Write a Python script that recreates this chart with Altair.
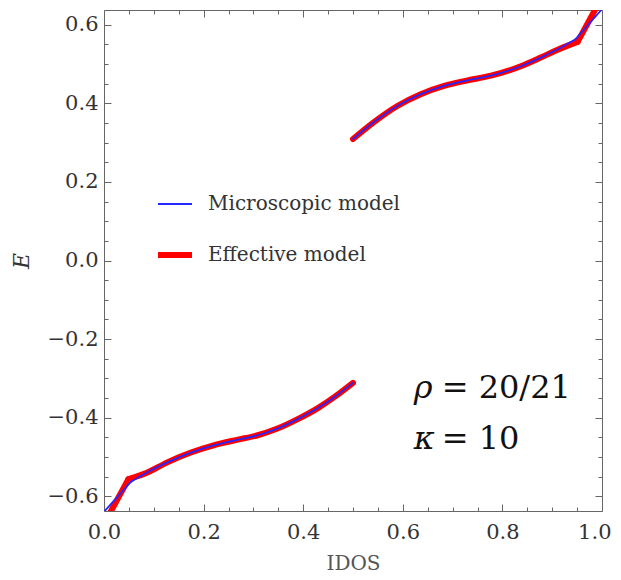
import altair as alt
import pandas as pd

# ---- data ----
# Microscopic model (blue): edge segments (to the kinks) and main segments
micro_lower_edge_idos = [0.0, 0.054]
micro_lower_edge_E = [-0.639, -0.563]
micro_lower_idos = [0.054, 0.086, 0.126, 0.173, 0.22, 0.267, 0.307, 0.347, 0.388, 0.431, 0.465, 0.5]
micro_lower_E = [-0.563, -0.539, -0.514, -0.489, -0.47, -0.456, -0.445, -0.428, -0.404, -0.374, -0.345, -0.311]
micro_upper_idos = [0.5, 0.542, 0.589, 0.636, 0.683, 0.73, 0.777, 0.837, 0.877, 0.911, 0.946]
micro_upper_E = [0.309, 0.352, 0.393, 0.423, 0.444, 0.458, 0.47, 0.494, 0.516, 0.537, 0.562]
micro_upper_edge_idos = [0.946, 1.0]
micro_upper_edge_E = [0.562, 0.639]

# Effective model (red)
eff_lower_edge_idos = [0.0, 0.049]
eff_lower_edge_E = [-0.67, -0.556]
eff_lower_idos = [0.049, 0.086, 0.126, 0.173, 0.22, 0.267, 0.307, 0.347, 0.388, 0.431, 0.465, 0.5]
eff_lower_E = [-0.556, -0.54, -0.514, -0.489, -0.47, -0.456, -0.445, -0.428, -0.404, -0.374, -0.345, -0.311]
eff_upper_idos = [0.5, 0.542, 0.589, 0.636, 0.683, 0.73, 0.777, 0.837, 0.877, 0.911, 0.951]
eff_upper_E = [0.309, 0.352, 0.393, 0.423, 0.444, 0.458, 0.47, 0.494, 0.516, 0.536, 0.556]
eff_upper_edge_idos = [0.951, 1.0]
eff_upper_edge_E = [0.556, 0.67]

models = ["Microscopic model", "Effective model"]
model_colors = ["#2626ff", "#ff0000"]
model_widths = [1.8, 6]

x_major = [0.0, 0.2, 0.4, 0.6, 0.8, 1.0]
x_last = [1.0]
x_minor = [0.05, 0.1, 0.15, 0.25, 0.3, 0.35, 0.45, 0.5, 0.55, 0.65, 0.7, 0.75, 0.85, 0.9, 0.95]
y_major = [-0.6, -0.4, -0.2, 0.0, 0.2, 0.4, 0.6]
y_minor = [-0.55, -0.5, -0.45, -0.35, -0.3, -0.25, -0.15, -0.1, -0.05,
           0.05, 0.1, 0.15, 0.25, 0.3, 0.35, 0.45, 0.5, 0.55]

ann_symbols = ["ρ", "κ"]
ann_values = ["= 20/21", "= 10"]
ann_E = [-0.323, -0.453]
ann_sym_idos = [0.622, 0.622]
ann_val_idos = [0.678, 0.678]

x_domain = [0.0, 1.0]
y_domain = [-0.637, 0.637]

# ---- tables ----
def seg(idos, E, branch, model):
    return pd.DataFrame({"IDOS": idos, "E": E, "branch": branch, "model": model})

micro = pd.concat([
    seg(micro_lower_edge_idos, micro_lower_edge_E, "a", models[0]),
    seg(micro_lower_idos, micro_lower_E, "b", models[0]),
    seg(micro_upper_idos, micro_upper_E, "c", models[0]),
    seg(micro_upper_edge_idos, micro_upper_edge_E, "d", models[0]),
], ignore_index=True)
eff = pd.concat([
    seg(eff_lower_edge_idos, eff_lower_edge_E, "a", models[1]),
    seg(eff_lower_idos, eff_lower_E, "b", models[1]),
    seg(eff_upper_idos, eff_upper_E, "c", models[1]),
    seg(eff_upper_edge_idos, eff_upper_edge_E, "d", models[1]),
], ignore_index=True)
ann = pd.DataFrame({"sym": ann_symbols, "val": ann_values, "E": ann_E,
                    "xs": ann_sym_idos, "xv": ann_val_idos})

W, H = 498, 501
FONT = "DejaVu Serif"
TICK = "#666666"
LABEL = "#333333"

xs = alt.Scale(domain=x_domain, nice=False, zero=False)
ys = alt.Scale(domain=y_domain, nice=False, zero=False)
color_scale = alt.Scale(domain=models, range=model_colors)
width_scale = alt.Scale(domain=models, range=model_widths)

legend = alt.Legend(
    title=None, orient="none", legendX=51, legendY=176, padding=0,
    symbolType="stroke", symbolSize=1156, labelFont=FONT, labelFontSize=20,
    labelColor=LABEL, labelOffset=13, rowPadding=21, labelLimit=400,
)

x_axis_major = alt.Axis(
    orient="bottom", values=x_major, format=".1f", title="IDOS",
    labelExpr="datum.value >= 1 ? '' : datum.label",
    ticks=False, tickSize=0, domain=False, labelPadding=10, labelFlush=False,
    labelFont=FONT, labelFontSize=21, labelColor=LABEL,
    titleFont=FONT, titleFontSize=20, titleFontWeight="normal",
    titleColor="#555555", titleY=42,
    grid=True, gridColor=TICK, gridOpacity=1, gridWidth=1, gridDash=[7, H - 14, 7],
)
y_axis_major = alt.Axis(
    orient="left", values=y_major, format=".1f", title="E",
    ticks=False, tickSize=0, domain=False, labelPadding=6, labelFlush=False,
    labelFont=FONT, labelFontSize=21, labelColor=LABEL,
    titleFont=FONT, titleFontSize=22, titleFontWeight="normal",
    titleFontStyle="italic", titleColor=LABEL, titleX=-71, titleY=250.5,
    grid=True, gridColor=TICK, gridOpacity=1, gridWidth=1, gridDash=[7, W - 14, 7],
)
x_axis_minor = alt.Axis(
    orient="bottom", values=x_minor, title=None, labels=False, ticks=False,
    tickSize=0, domain=False,
    grid=True, gridColor=TICK, gridOpacity=1, gridWidth=1, gridDash=[4, H - 8, 4],
)
y_axis_minor = alt.Axis(
    orient="left", values=y_minor, title=None, labels=False, ticks=False,
    tickSize=0, domain=False,
    grid=True, gridColor=TICK, gridOpacity=1, gridWidth=1, gridDash=[4, W - 8, 4],
)
# last x label kept inside the page: flush-aligned, pushed outward a little
x_axis_last = alt.Axis(
    orient="bottom", values=x_last, format=".1f", title=None, ticks=False,
    tickSize=0, domain=False, grid=False, labelPadding=10,
    labelFlush=True, labelFlushOffset=9,
    labelFont=FONT, labelFontSize=21, labelColor=LABEL,
)

line_style = dict(clip=True, strokeCap="round", strokeJoin="round", interpolate="monotone")

eff_layer = alt.Chart(eff).mark_line(**line_style).encode(
    x=alt.X("IDOS:Q", scale=xs, axis=x_axis_major),
    y=alt.Y("E:Q", scale=ys, axis=y_axis_major),
    detail="branch:N",
    color=alt.Color("model:N", scale=color_scale, legend=legend),
    strokeWidth=alt.StrokeWidth("model:N", scale=width_scale, legend=legend),
    order=alt.Order("IDOS:Q"),
)

micro_layer = alt.Chart(micro).mark_line(**line_style).encode(
    x=alt.X("IDOS:Q", scale=xs, axis=x_axis_minor),
    y=alt.Y("E:Q", scale=ys, axis=y_axis_minor),
    detail="branch:N",
    color=alt.Color("model:N", scale=color_scale, legend=legend),
    strokeWidth=alt.StrokeWidth("model:N", scale=width_scale, legend=legend),
    order=alt.Order("IDOS:Q"),
)

sym_layer = alt.Chart(ann).mark_text(
    font=FONT, fontSize=32, fontStyle="italic", align="left", baseline="middle", color="#111111"
).encode(
    x=alt.X("xs:Q", scale=xs, axis=x_axis_last),
    y=alt.Y("E:Q", scale=ys, axis=None),
    text="sym:N",
)
val_layer = alt.Chart(ann).mark_text(
    font=FONT, fontSize=32, align="left", baseline="middle", color="#111111"
).encode(
    x=alt.X("xv:Q", scale=xs, axis=None),
    y=alt.Y("E:Q", scale=ys, axis=None),
    text="val:N",
)

chart = alt.layer(eff_layer, micro_layer, sym_layer, val_layer).resolve_axis(
    x="independent", y="independent"
).properties(
    width=W, height=H,
    autosize=alt.AutoSizeParams(type="none"),
    padding={"left": 96, "top": 2, "right": 11, "bottom": 64},
    background="white",
).configure_view(stroke=TICK, strokeWidth=1)

chart.save("out.html", embed_options={"renderer": "svg", "actions": False})
